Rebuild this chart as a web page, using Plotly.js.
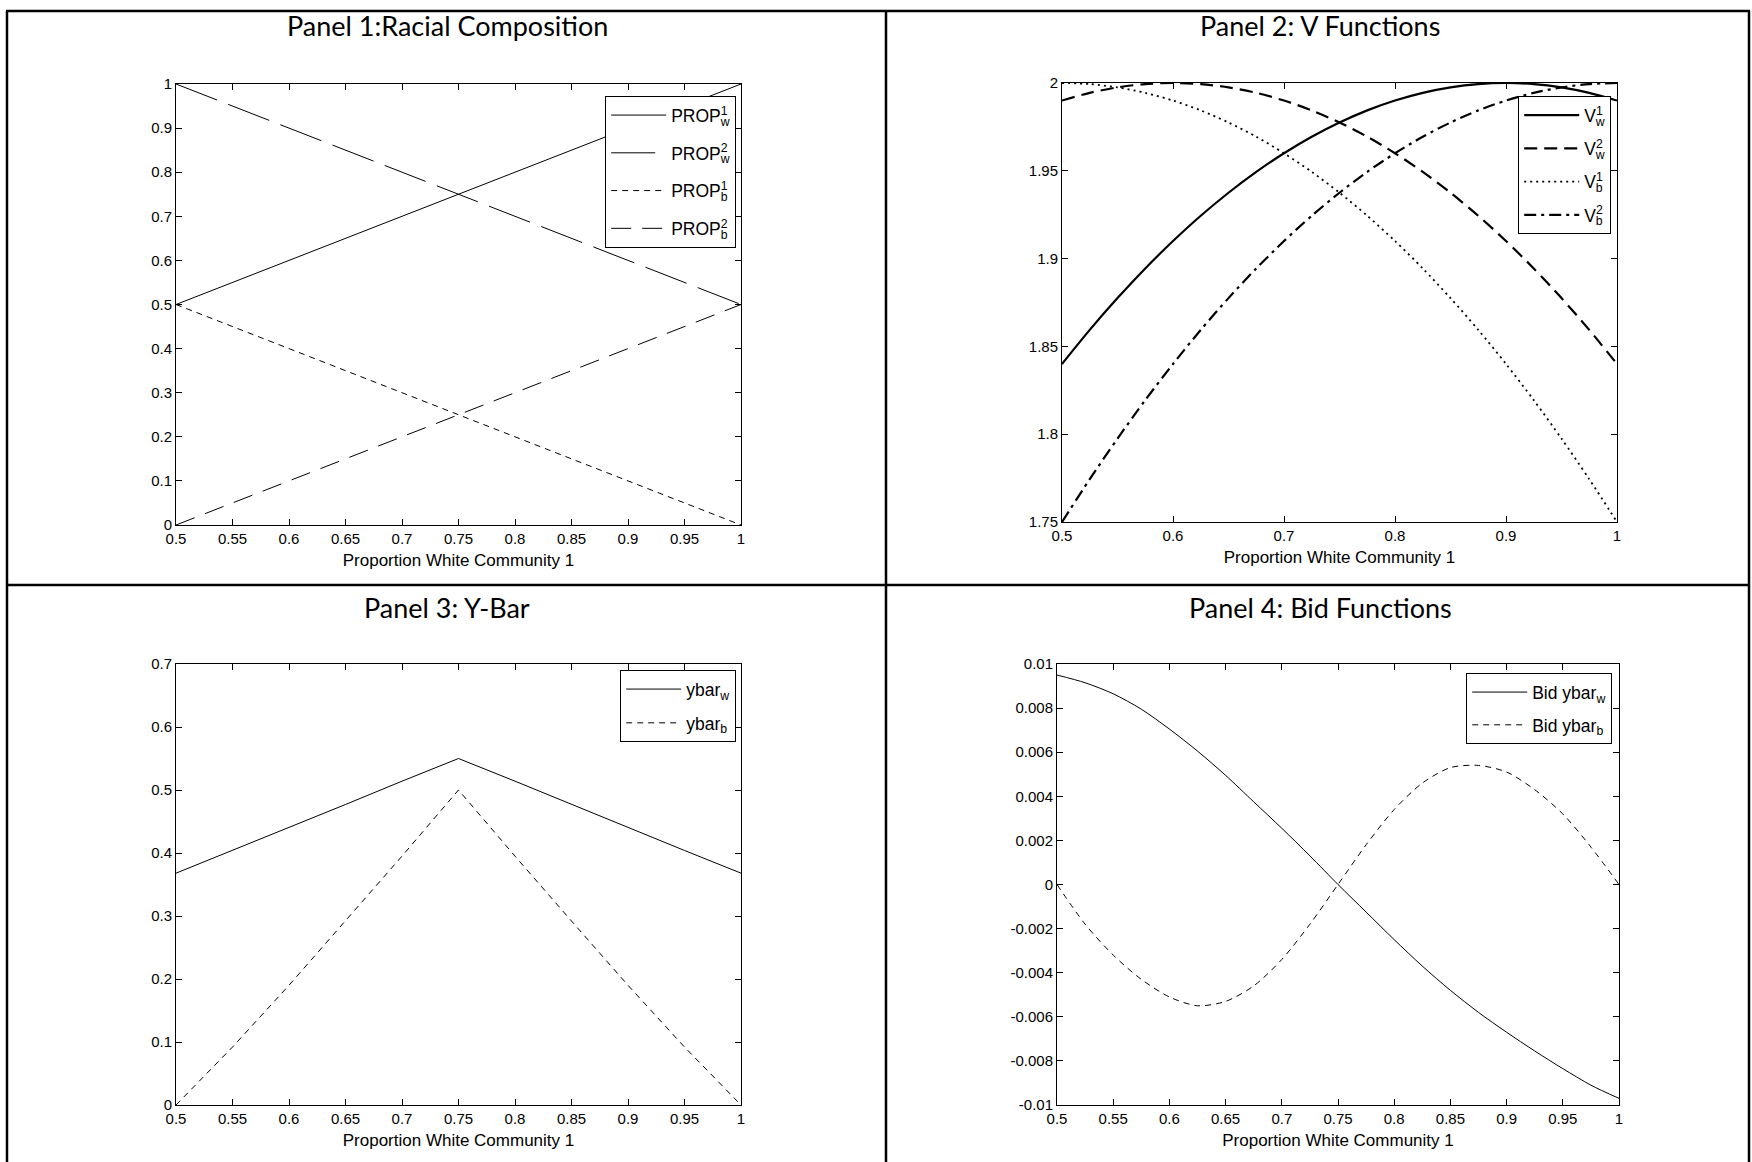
<!DOCTYPE html>
<html>
<head>
<meta charset="utf-8">
<script src="https://cdn.plot.ly/plotly-3.0.1.min.js"></script>
<style>
  html, body { margin: 0; padding: 0; background: #fff; }
  #chart { width: 1752px; height: 1162px; }
</style>
</head>
<body>
<div id="chart"></div>
<script>
// ---------------- DATA ----------------
// Panel 1: Racial composition
const propX  = [0.5, 0.75, 1.0];
const propW1 = [0.5, 0.75, 1.0];
const propW2 = [1.0, 0.75, 0.5];
const propB1 = [0.5, 0.25, 0.0];
const propB2 = [0.0, 0.25, 0.5];

// Panel 2: V functions
const vX  = [0.5,0.525,0.55,0.575,0.6,0.625,0.65,0.675,0.7,0.725,0.75,0.775,0.8,0.825,0.85,0.875,0.9,0.925,0.95,0.975,1.0];
const vW1 = [1.84,1.8594,1.8775,1.8944,1.91,1.9244,1.9375,1.9494,1.96,1.9694,1.9775,1.9844,1.99,1.9944,1.9975,1.9994,2.0,1.9994,1.9975,1.9944,1.99];
const vW2 = [1.99,1.9944,1.9975,1.9994,2.0,1.9994,1.9975,1.9944,1.99,1.9844,1.9775,1.9694,1.96,1.9494,1.9375,1.9244,1.91,1.8944,1.8775,1.8594,1.84];
const vB1 = [2.0,1.9994,1.9975,1.9944,1.99,1.9844,1.9775,1.9694,1.96,1.9494,1.9375,1.9244,1.91,1.8944,1.8775,1.8594,1.84,1.8194,1.7975,1.7744,1.75];
const vB2 = [1.75,1.7744,1.7975,1.8194,1.84,1.8594,1.8775,1.8944,1.91,1.9244,1.9375,1.9494,1.96,1.9694,1.9775,1.9844,1.99,1.9944,1.9975,1.9994,2.0];

// Panel 3: Y-bar
const ybX = [0.5,0.55,0.6,0.65,0.7,0.75,0.8,0.85,0.9,0.95,1.0];
const ybW = [0.368,0.404,0.441,0.477,0.514,0.55,0.514,0.477,0.441,0.404,0.368];
const ybB = [0.0,0.092,0.19,0.292,0.395,0.5,0.395,0.292,0.19,0.092,0.0];

// Panel 4: Bid functions
const bidX = [0.5,0.525,0.55,0.575,0.6,0.625,0.65,0.675,0.7,0.725,0.75,0.775,0.8,0.825,0.85,0.875,0.9,0.925,0.95,0.975,1.0];
const bidW = [0.0095,0.00915,0.00865,0.00795,0.00705,0.00605,0.00495,0.00375,0.00255,0.0013,0.0,-0.00125,-0.0025,-0.0037,-0.0048,-0.0058,-0.0067,-0.00755,-0.00835,-0.0091,-0.0097];
const bidB = [0.0,-0.0018,-0.0032,-0.0043,-0.0051,-0.0055,-0.0053,-0.0046,-0.0034,-0.0018,0.0,0.0018,0.0034,0.0046,0.0053,0.0054,0.0051,0.0043,0.0032,0.0017,0.0];

// Tick labels
const xTicks1 = [0.5,0.55,0.6,0.65,0.7,0.75,0.8,0.85,0.9,0.95,1];
const xText1  = ['0.5','0.55','0.6','0.65','0.7','0.75','0.8','0.85','0.9','0.95','1'];
const xTicks2 = [0.5,0.6,0.7,0.8,0.9,1];
const xText2  = ['0.5','0.6','0.7','0.8','0.9','1'];
const yTicks1 = [0,0.1,0.2,0.3,0.4,0.5,0.6,0.7,0.8,0.9,1];
const yText1  = ['0','0.1','0.2','0.3','0.4','0.5','0.6','0.7','0.8','0.9','1'];
const yTicks2 = [1.75,1.8,1.85,1.9,1.95,2];
const yText2  = ['1.75','1.8','1.85','1.9','1.95','2'];
const yTicks3 = [0,0.1,0.2,0.3,0.4,0.5,0.6,0.7];
const yText3  = ['0','0.1','0.2','0.3','0.4','0.5','0.6','0.7'];
const yTicks4 = [-0.01,-0.008,-0.006,-0.004,-0.002,0,0.002,0.004,0.006,0.008,0.01];
const yText4  = ['-0.01','-0.008','-0.006','-0.004','-0.002','0','0.002','0.004','0.006','0.008','0.01'];

const panelTitles = ['Panel 1:Racial Composition','Panel 2: V Functions','Panel 3: Y-Bar','Panel 4: Bid Functions'];
const xTitle = 'Proportion White Community 1';

// ---------------- STYLE ----------------
const W = 1752, H = 1162;
const MFONT = '"Liberation Sans", Arial, Helvetica, sans-serif';
const TFONT = 'Lato, "Open Sans", "Noto Sans", sans-serif';
const px = v => v / W;
const py = v => 1 - v / H;

// stacked super/subscript label, MATLAB style
function lbl(base, sup, sub) {
  const s = sup ? '<sup><span style="letter-spacing:-7px">' + sup + '</span></sup>' : '';
  return base + s + '<sub>' + sub + '</sub>';
}

let gid = 0;
function line(x, y, name, xa, ya, lg, width, dash, shape) {
  gid += 1;
  return { x, y, name, type: 'scatter', mode: 'lines', xaxis: xa, yaxis: ya, legend: lg,
           legendgroup: 'g' + gid,
           line: { color: '#000', width: width, dash: dash, shape: shape || 'linear', smoothing: 0.8 } };
}

const traces = [
  line(propX, propW1, lbl('PROP', '1', 'w'), 'x', 'y', 'legend', 1, 'solid'),
  line(propX, propW2, lbl('PROP', '2', 'w'), 'x', 'y', 'legend', 1, '44px,12px'),
  line(propX, propB1, lbl('PROP', '1', 'b'), 'x', 'y', 'legend', 1, '6px,5px'),
  line(propX, propB2, lbl('PROP', '2', 'b'), 'x', 'y', 'legend', 1, '20px,11px'),

  line(vX, vW1, lbl('V', '1', 'w'), 'x2', 'y2', 'legend2', 2.2, 'solid', 'spline'),
  line(vX, vW2, lbl('V', '2', 'w'), 'x2', 'y2', 'legend2', 2.2, '13px,7px', 'spline'),
  line(vX, vB1, lbl('V', '1', 'b'), 'x2', 'y2', 'legend2', 1.8, '2px,4px', 'spline'),
  line(vX, vB2, lbl('V', '2', 'b'), 'x2', 'y2', 'legend2', 2.2, '12px,5px,3px,5px', 'spline'),

  line(ybX, ybW, lbl('ybar', '', 'w'), 'x3', 'y3', 'legend3', 1, 'solid'),
  line(ybX, ybB, lbl('ybar', '', 'b'), 'x3', 'y3', 'legend3', 1, '6px,5px'),

  line(bidX, bidW, lbl('Bid ybar', '', 'w'), 'x4', 'y4', 'legend4', 1, 'solid', 'spline'),
  line(bidX, bidB, lbl('Bid ybar', '', 'b'), 'x4', 'y4', 'legend4', 1, '6px,5px', 'spline')
];

function xaxis(domain, range, tv, tt, anchor) {
  return { domain, range, tickvals: tv, ticktext: tt, anchor, ticks: 'inside', ticklen: 6,
           tickcolor: '#000', showline: true, linecolor: '#000', linewidth: 1, mirror: 'ticks',
           showgrid: false, zeroline: false, tickfont: { family: MFONT, size: 15, color: '#000' },
           title: { text: xTitle, font: { family: MFONT, size: 17, color: '#000' }, standoff: 8 } };
}
function yaxis(domain, range, tv, tt, anchor) {
  return { domain, range, tickvals: tv, ticktext: tt, anchor, ticks: 'inside', ticklen: 6,
           tickcolor: '#000', showline: true, linecolor: '#000', linewidth: 1, mirror: 'ticks',
           showgrid: false, zeroline: false, tickfont: { family: MFONT, size: 15, color: '#000' } };
}

function legend(xr, yt, gap) {
  return { x: px(xr), y: py(yt), xanchor: 'right', yanchor: 'top', xref: 'paper', yref: 'paper',
           bgcolor: '#fff', bordercolor: '#000', borderwidth: 1.2,
           font: { family: MFONT, size: 17.5, color: '#000' }, itemwidth: 55, tracegroupgap: gap };
}

const xd1 = [px(176), px(741)], xd2 = [px(1062), px(1617)], xd4 = [px(1057), px(1619)];
const yTop = [py(525), py(84)], yBot = [py(1105), py(664)];

const ann = (text, x, y) => ({ text, x: px(x), y: py(y), xref: 'paper', yref: 'paper', showarrow: false,
  xanchor: 'center', yanchor: 'middle', font: { family: TFONT, size: 27, color: '#000' } });

const layout = {
  width: W, height: H, margin: { l: 0, r: 0, t: 0, b: 0 },
  paper_bgcolor: '#fff', plot_bgcolor: '#fff', showlegend: true,
  xaxis:  xaxis(xd1, [0.5, 1], xTicks1, xText1, 'y'),
  yaxis:  yaxis(yTop, [0, 1], yTicks1, yText1, 'x'),
  xaxis2: xaxis(xd2, [0.5, 1], xTicks2, xText2, 'y2'),
  yaxis2: yaxis([py(522), py(83)], [1.75, 2], yTicks2, yText2, 'x2'),
  xaxis3: xaxis(xd1, [0.5, 1], xTicks1, xText1, 'y3'),
  yaxis3: yaxis(yBot, [0, 0.7], yTicks3, yText3, 'x3'),
  xaxis4: xaxis(xd4, [0.5, 1], xTicks1, xText1, 'y4'),
  yaxis4: yaxis(yBot, [-0.01, 0.01], yTicks4, yText4, 'x4'),
  legend:  legend(736, 96, 12),
  legend2: legend(1611, 96, 7.5),
  legend3: legend(736, 670, 8),
  legend4: legend(1612, 673, 7),
  annotations: [
    ann(panelTitles[0], 447, 26),
    ann(panelTitles[1], 1320, 26),
    ann(panelTitles[2], 447, 607),
    ann(panelTitles[3], 1320, 607)
  ],
  shapes: [
    { type: 'line', xref: 'paper', yref: 'paper', x0: px(6), x1: px(1750), y0: py(11), y1: py(11), line: { color: '#000', width: 2.5 } },
    { type: 'line', xref: 'paper', yref: 'paper', x0: px(7), x1: px(7), y0: py(11), y1: py(1162), line: { color: '#000', width: 2.5 } },
    { type: 'line', xref: 'paper', yref: 'paper', x0: px(1749), x1: px(1749), y0: py(11), y1: py(1162), line: { color: '#000', width: 2.5 } },
    { type: 'line', xref: 'paper', yref: 'paper', x0: px(886), x1: px(886), y0: py(11), y1: py(1162), line: { color: '#000', width: 2.5 } },
    { type: 'line', xref: 'paper', yref: 'paper', x0: px(6), x1: px(1750), y0: py(585), y1: py(585), line: { color: '#000', width: 2.5 } }
  ]
};

Plotly.newPlot('chart', traces, layout, { staticPlot: true, displayModeBar: false });
</script>
</body>
</html>
